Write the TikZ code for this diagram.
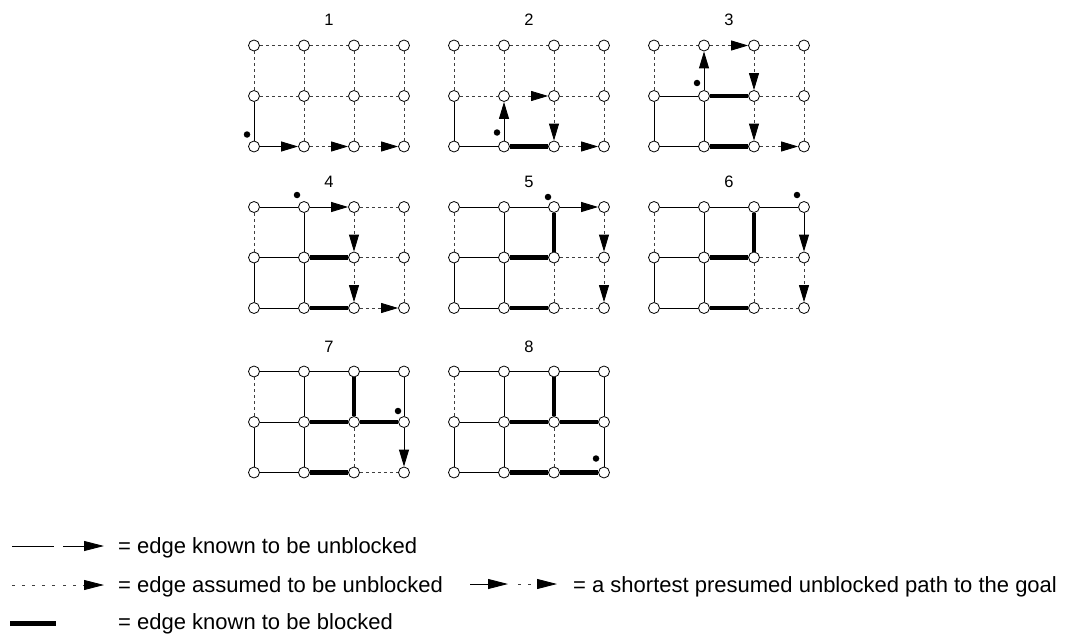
\documentclass[tikz,border=0pt]{standalone}
\usepackage{fontspec}
\setmainfont{Liberation Sans}
\usetikzlibrary{arrows.meta,calc,backgrounds}

\tikzset{
  vtx/.style={circle, draw, fill=white, line width=0.8pt, inner sep=0pt, minimum size=11pt},
  agent/.style={circle, fill=black, inner sep=0pt, minimum size=6.5pt},
  lbl/.style={font=\fontsize{16.5}{19}\selectfont, anchor=base, inner sep=0pt},
  legtext/.style={font=\fontsize{22}{26}\selectfont, anchor=base west, inner sep=0pt},
  known/.style={draw=black, line width=0.9pt},
  assumed/.style={draw=black!75, line width=0.8pt, dash pattern=on 3pt off 3pt},
  blocked/.style={draw=black, line width=4.5pt},
  headtip/.style={-{Triangle[length=17pt,width=10pt,color=black]}},
  legtip/.style={-{Triangle[length=20pt,width=10pt,color=black]}},
  knownarrow/.style={known, headtip},
  assumedarrow/.style={assumed, headtip},
  legdot/.style={draw=black!75, line width=0.8pt, dash pattern=on 2.5pt off 7.5pt},
}

% one 4x3 grid world: id, left x, top y, list of edges from/to/kind
\newcommand\gridpanel[4]{%
  \foreach \c in {0,1,2,3}{
    \foreach \r in {0,1,2}{
      \node[vtx] (p#1-\c-\r) at ({#2+50*\c},{#3+50.5*\r}) {};
    }
  }
  \node[lbl] (t#1) at ({#2+75},{#3-19.5}) {#1};
  \begin{scope}[on background layer]
    \foreach \a/\b/\s in {#4} \draw[\s] (p#1-\a) -- (p#1-\b);
  \end{scope}
}

\begin{document}
\begin{tikzpicture}[x=1pt,y=-1pt]
\useasboundingbox (0,0) rectangle (1066,634);
\begin{scope}[on background layer]
  \fill[white] (0,0) rectangle (1066,634);
\end{scope}

\gridpanel{1}{254}{45.5}{
  0-0/1-0/assumed, 1-0/2-0/assumed, 2-0/3-0/assumed,
  0-1/1-1/assumed, 1-1/2-1/assumed, 2-1/3-1/assumed,
  0-2/1-2/knownarrow, 1-2/2-2/assumedarrow, 2-2/3-2/assumedarrow,
  0-0/0-1/assumed, 0-1/0-2/known,
  1-0/1-1/assumed, 1-1/1-2/assumed,
  2-0/2-1/assumed, 2-1/2-2/assumed,
  3-0/3-1/assumed, 3-1/3-2/assumed}
\node[agent] (a1) at ($(p1-0-2)+(-7,-12)$) {};

\gridpanel{2}{454}{45.5}{
  0-0/1-0/assumed, 1-0/2-0/assumed, 2-0/3-0/assumed,
  0-1/1-1/assumed, 1-1/2-1/assumedarrow, 2-1/3-1/assumed,
  0-2/1-2/known, 1-2/2-2/blocked, 2-2/3-2/assumedarrow,
  0-0/0-1/assumed, 0-1/0-2/known,
  1-0/1-1/assumed, 1-2/1-1/knownarrow,
  2-0/2-1/assumed, 2-1/2-2/assumedarrow,
  3-0/3-1/assumed, 3-1/3-2/assumed}
\node[agent] (a2) at ($(p2-1-2)+(-7,-14)$) {};

\gridpanel{3}{654}{45.5}{
  0-0/1-0/assumed, 1-0/2-0/assumedarrow, 2-0/3-0/assumed,
  0-1/1-1/known, 1-1/2-1/blocked, 2-1/3-1/assumed,
  0-2/1-2/known, 1-2/2-2/blocked, 2-2/3-2/assumedarrow,
  0-0/0-1/assumed, 0-1/0-2/known,
  1-1/1-0/knownarrow, 1-1/1-2/known,
  2-0/2-1/assumedarrow, 2-1/2-2/assumedarrow,
  3-0/3-1/assumed, 3-1/3-2/assumed}
\node[agent] (a3) at ($(p3-1-1)+(-7,-13)$) {};

\gridpanel{4}{254}{207}{
  0-0/1-0/known, 1-0/2-0/knownarrow, 2-0/3-0/assumed,
  0-1/1-1/known, 1-1/2-1/blocked, 2-1/3-1/assumed,
  0-2/1-2/known, 1-2/2-2/blocked, 2-2/3-2/assumedarrow,
  0-0/0-1/assumed, 0-1/0-2/known,
  1-0/1-1/known, 1-1/1-2/known,
  2-0/2-1/assumedarrow, 2-1/2-2/assumedarrow,
  3-0/3-1/assumed, 3-1/3-2/assumed}
\node[agent] (a4) at ($(p4-1-0)+(-7,-12)$) {};

\gridpanel{5}{454}{207}{
  0-0/1-0/known, 1-0/2-0/known, 2-0/3-0/knownarrow,
  0-1/1-1/known, 1-1/2-1/blocked, 2-1/3-1/assumed,
  0-2/1-2/known, 1-2/2-2/blocked, 2-2/3-2/assumed,
  0-0/0-1/assumed, 0-1/0-2/known,
  1-0/1-1/known, 1-1/1-2/known,
  2-0/2-1/blocked, 2-1/2-2/assumed,
  3-0/3-1/assumedarrow, 3-1/3-2/assumedarrow}
\node[agent] (a5) at ($(p5-2-0)+(-6,-10)$) {};

\gridpanel{6}{654}{207}{
  0-0/1-0/known, 1-0/2-0/known, 2-0/3-0/known,
  0-1/1-1/known, 1-1/2-1/blocked, 2-1/3-1/assumed,
  0-2/1-2/known, 1-2/2-2/blocked, 2-2/3-2/assumed,
  0-0/0-1/assumed, 0-1/0-2/known,
  1-0/1-1/known, 1-1/1-2/known,
  2-0/2-1/blocked, 2-1/2-2/assumed,
  3-0/3-1/knownarrow, 3-1/3-2/assumedarrow}
\node[agent] (a6) at ($(p6-3-0)+(-7,-12)$) {};

\gridpanel{7}{254}{371.5}{
  0-0/1-0/known, 1-0/2-0/known, 2-0/3-0/known,
  0-1/1-1/known, 1-1/2-1/blocked, 2-1/3-1/blocked,
  0-2/1-2/known, 1-2/2-2/blocked, 2-2/3-2/assumed,
  0-0/0-1/assumed, 0-1/0-2/known,
  1-0/1-1/known, 1-1/1-2/known,
  2-0/2-1/blocked, 2-1/2-2/assumed,
  3-0/3-1/known, 3-1/3-2/knownarrow}
\node[agent] (a7) at ($(p7-3-1)+(-6,-11)$) {};

\gridpanel{8}{454}{371.5}{
  0-0/1-0/known, 1-0/2-0/known, 2-0/3-0/known,
  0-1/1-1/known, 1-1/2-1/blocked, 2-1/3-1/blocked,
  0-2/1-2/known, 1-2/2-2/blocked, 2-2/3-2/blocked,
  0-0/0-1/assumed, 0-1/0-2/known,
  1-0/1-1/known, 1-1/1-2/known,
  2-0/2-1/blocked, 2-1/2-2/assumed,
  3-0/3-1/known, 3-1/3-2/known}
\node[agent] (a8) at ($(p8-3-2)+(-8,-14)$) {};

% legend
\coordinate (k1) at (12,546);  \coordinate (k2) at (54,546);
\coordinate (k3) at (63,546);  \coordinate (k4) at (104,546);
\draw[known] (k1) -- (k2);
\draw[known, legtip] (k3) -- (k4);
\node[legtext] (lt1) at (118,553) {= edge known to be unblocked};

\coordinate (d1) at (12,585);  \coordinate (d2) at (56,585);
\coordinate (d3) at (63,585);  \coordinate (d4) at (104,585);
\draw[legdot] (d1) -- (d2);
\draw[legdot, legtip] (d3) -- (d4);
\node[legtext] (lt2) at (118,592) {= edge assumed to be unblocked};

\coordinate (s1) at (470,584); \coordinate (s2) at (508,584);
\coordinate (s3) at (518,584); \coordinate (s4) at (557,584);
\draw[known, legtip] (s1) -- (s2);
\draw[legdot, legtip] (s3) -- (s4);
\node[legtext] (lt3) at (573,592) {= a shortest presumed unblocked path to the goal};

\coordinate (b1) at (10,623);  \coordinate (b2) at (56,623);
\draw[blocked, line width=5pt] (b1) -- (b2);
\node[legtext] (lt4) at (118,629.5) {= edge known to be blocked};
\end{tikzpicture}
\end{document}
